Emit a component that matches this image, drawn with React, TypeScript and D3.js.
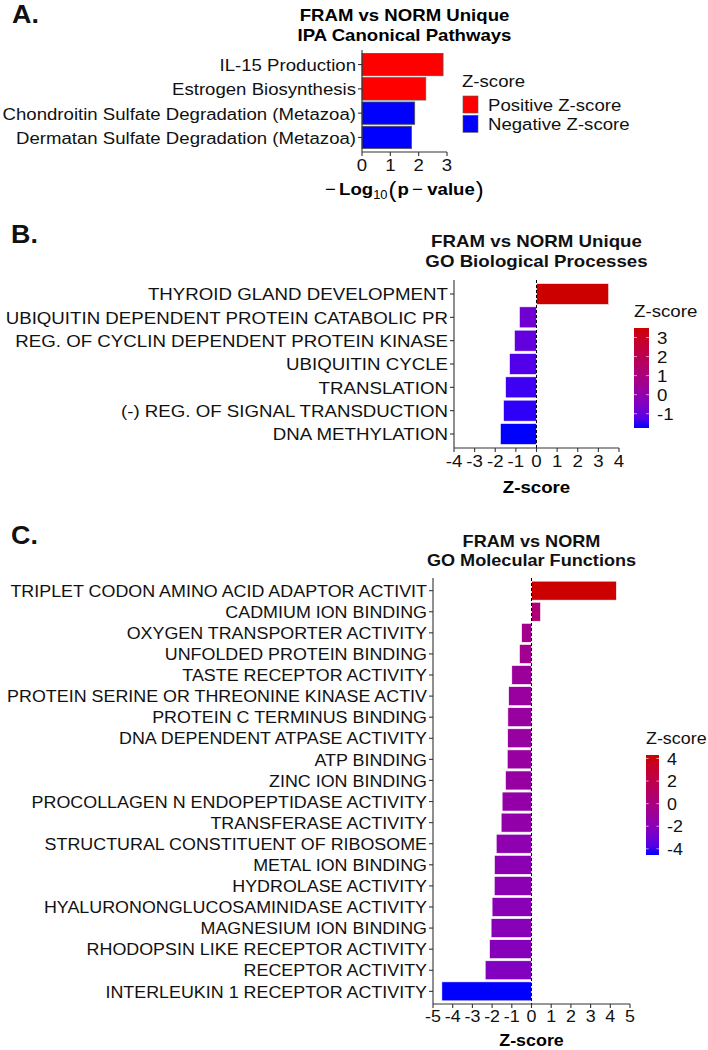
import React from "react";
import * as d3 from "d3";

// ---------- Data ----------
const catsA = [
  "IL-15 Production",
  "Estrogen Biosynthesis",
  "Chondroitin Sulfate Degradation (Metazoa)",
  "Dermatan Sulfate Degradation (Metazoa)",
];
const valsA = [2.86, 2.25, 1.86, 1.75];
const signA = ["pos", "pos", "neg", "neg"];
const ticksA = [0, 1, 2, 3];
const legendA = ["Positive Z-score", "Negative Z-score"];

const catsB = [
  "THYROID GLAND DEVELOPMENT",
  "UBIQUITIN DEPENDENT PROTEIN CATABOLIC PR",
  "REG. OF CYCLIN DEPENDENT PROTEIN KINASE",
  "UBIQUITIN CYCLE",
  "TRANSLATION",
  "(-) REG. OF SIGNAL TRANSDUCTION",
  "DNA METHYLATION",
];
const valsB = [3.5, -0.83, -1.07, -1.31, -1.5, -1.6, -1.75];
const ticksB = [-4, -3, -2, -1, 0, 1, 2, 3, 4];
const legendTicksB = [3, 2, 1, 0, -1];

const catsC = [
  "TRIPLET CODON AMINO ACID ADAPTOR ACTIVIT",
  "CADMIUM ION BINDING",
  "OXYGEN TRANSPORTER ACTIVITY",
  "UNFOLDED PROTEIN BINDING",
  "TASTE RECEPTOR ACTIVITY",
  "PROTEIN SERINE OR THREONINE KINASE ACTIV",
  "PROTEIN C TERMINUS BINDING",
  "DNA DEPENDENT ATPASE ACTIVITY",
  "ATP BINDING",
  "ZINC ION BINDING",
  "PROCOLLAGEN N ENDOPEPTIDASE ACTIVITY",
  "TRANSFERASE ACTIVITY",
  "STRUCTURAL CONSTITUENT OF RIBOSOME",
  "METAL ION BINDING",
  "HYDROLASE ACTIVITY",
  "HYALURONONGLUCOSAMINIDASE ACTIVITY",
  "MAGNESIUM ION BINDING",
  "RHODOPSIN LIKE RECEPTOR ACTIVITY",
  "RECEPTOR ACTIVITY",
  "INTERLEUKIN 1 RECEPTOR ACTIVITY",
];
const valsC = [
  4.31, 0.46, -0.5, -0.61, -1.0, -1.16, -1.2, -1.21, -1.23, -1.32, -1.49, -1.54,
  -1.79, -1.88, -1.89, -2.0, -2.05, -2.13, -2.35, -4.55,
];
const ticksC = [-5, -4, -3, -2, -1, 0, 1, 2, 3, 4, 5];
const legendTicksC = [4, 2, 0, -2, -4];

// ---------- Styling ----------
const FONT = "'Liberation Sans', Arial, Helvetica, sans-serif";
const AXIS = "#333333";
const LOW = "#0000FF";
const HIGH = "#CD0000";
const SX = 1.075; // horizontal stretch of the reference's lettering

function T({ x, y, size, anchor = "start", bold = false, fill = "#111", children }: any) {
  return (
    <text
      transform={`translate(${x},${y}) scale(${SX},1)`}
      x={0}
      y={0}
      fontSize={size}
      textAnchor={anchor}
      fontWeight={bold ? "bold" : "normal"}
      fill={fill}
    >
      {children}
    </text>
  );
}

function ZBars({
  cats, vals, xDomain, xRange, yRange, ticks, legendTicks, fontSize,
  title, titleY, tickY, axisTitleY, cbar, gradId,
}: any) {
  const x = d3.scaleLinear().domain(xDomain).range(xRange);
  const y = d3.scalePoint<string>().domain(cats).range(yRange).padding(0.6);
  const step = y.step();
  const [vmin, vmax] = d3.extent(vals as number[]) as [number, number];
  const color = d3.scaleLinear<string>().domain([vmin, vmax]).range([LOW, HIGH]).interpolate(d3.interpolateLab);
  const cScale = d3.scaleLinear().domain([vmin, vmax]).range([cbar.bottom, cbar.top]);
  const cx = (xRange[0] + xRange[1]) / 2;
  const stops = d3.range(0, 11).map((i) => i / 10);
  return (
    <g fontFamily={FONT}>
      <defs>
        <linearGradient id={gradId} x1="0" y1="1" x2="0" y2="0">
          {stops.map((t) => (
            <stop key={t} offset={t} stopColor={color(vmin + t * (vmax - vmin))} />
          ))}
        </linearGradient>
      </defs>
      <T x={cx} y={titleY[0]} anchor="middle" bold size={title.size}>{title.lines[0]}</T>
      <T x={cx} y={titleY[1]} anchor="middle" bold size={title.size}>{title.lines[1]}</T>
      {cats.map((c: string, i: number) => {
        const v = vals[i];
        const x0 = x(Math.min(0, v));
        const x1 = x(Math.max(0, v));
        const bh = step * 0.9;
        return (
          <rect key={c} x={x0} y={(y(c) as number) - bh / 2} width={x1 - x0} height={bh}
            fill={color(v)} stroke="#ffffff" strokeWidth={0.6} />
        );
      })}
      <line x1={x(0)} x2={x(0)} y1={yRange[0]} y2={yRange[1]} stroke="#000" strokeWidth={1} strokeDasharray="3,2" />
      {/* y axis */}
      <line x1={xRange[0]} x2={xRange[0]} y1={yRange[0]} y2={yRange[1]} stroke={AXIS} strokeWidth={1.1} />
      {cats.map((c: string) => (
        <g key={"t" + c}>
          <line x1={xRange[0] - 4} x2={xRange[0]} y1={y(c)} y2={y(c)} stroke={AXIS} strokeWidth={1.1} />
          <T x={xRange[0] - 6} y={(y(c) as number) + fontSize * 0.37} anchor="end" size={fontSize}>{c}</T>
        </g>
      ))}
      {/* x axis */}
      <line x1={xRange[0]} x2={xRange[1]} y1={yRange[1]} y2={yRange[1]} stroke={AXIS} strokeWidth={1.1} />
      {ticks.map((t: number) => (
        <g key={"x" + t}>
          <line x1={x(t)} x2={x(t)} y1={yRange[1]} y2={yRange[1] + 4} stroke={AXIS} strokeWidth={1.1} />
          <T x={x(t)} y={tickY} anchor="middle" size={fontSize}>{String(t)}</T>
        </g>
      ))}
      <T x={cx} y={axisTitleY} anchor="middle" bold size={fontSize} fill="#000">Z-score</T>
      {/* colorbar legend */}
      <T x={cbar.x} y={cbar.titleY} size={fontSize}>Z-score</T>
      <rect x={cbar.x} y={cbar.top} width={cbar.w} height={cbar.bottom - cbar.top} fill={`url(#${gradId})`} />
      {legendTicks.map((t: number) => (
        <g key={"l" + t}>
          <line x1={cbar.x} x2={cbar.x + cbar.w * 0.2} y1={cScale(t)} y2={cScale(t)} stroke="#fff" strokeWidth={0.6} />
          <line x1={cbar.x + cbar.w * 0.8} x2={cbar.x + cbar.w} y1={cScale(t)} y2={cScale(t)} stroke="#fff" strokeWidth={0.6} />
          <T x={cbar.x + cbar.w + 8} y={cScale(t) + fontSize * 0.37} size={fontSize}>{String(t)}</T>
        </g>
      ))}
    </g>
  );
}

function PanelA() {
  const xRange = [362, 447];
  const yRange = [50, 152];
  const fs = 17.3;
  const x = d3.scaleLinear().domain([0, 3]).range(xRange);
  const y = d3.scalePoint<string>().domain(catsA).range(yRange).padding(0.6);
  const step = y.step();
  const fillFor = (s: string) => (s === "pos" ? "#FF0000" : "#0000FF");
  const cx = (xRange[0] + xRange[1]) / 2;
  return (
    <g fontFamily={FONT}>
      <T x={cx} y={21} anchor="middle" bold size={17.3} fill="#000">FRAM vs NORM Unique</T>
      <T x={cx} y={40.5} anchor="middle" bold size={17.3} fill="#000">IPA Canonical Pathways</T>
      {catsA.map((c, i) => {
        const bh = step * 0.92;
        return (
          <rect key={c} x={x(0)} y={(y(c) as number) - bh / 2} width={x(valsA[i]) - x(0)} height={bh}
            fill={fillFor(signA[i])} stroke="#555" strokeWidth={0.8} />
        );
      })}
      <line x1={xRange[0]} x2={xRange[0]} y1={yRange[0]} y2={yRange[1]} stroke={AXIS} strokeWidth={1.1} />
      {catsA.map((c) => (
        <g key={"t" + c}>
          <line x1={xRange[0] - 4} x2={xRange[0]} y1={y(c)} y2={y(c)} stroke={AXIS} strokeWidth={1.1} />
          <T x={xRange[0] - 6} y={(y(c) as number) + fs * 0.37} anchor="end" size={fs}>{c}</T>
        </g>
      ))}
      <line x1={xRange[0]} x2={xRange[1]} y1={yRange[1]} y2={yRange[1]} stroke={AXIS} strokeWidth={1.1} />
      {ticksA.map((t) => (
        <g key={"x" + t}>
          <line x1={x(t)} x2={x(t)} y1={yRange[1]} y2={yRange[1] + 4} stroke={AXIS} strokeWidth={1.1} />
          <T x={x(t)} y={171} anchor="middle" size={fs}>{String(t)}</T>
        </g>
      ))}
      <T x={325} y={195} size={fs} fill="#000">
        <tspan>−</tspan>
        <tspan dx={3} fontWeight="bold">Log</tspan>
        <tspan fontSize={12} dy={4}>10</tspan>
        <tspan fontSize={22} dy={-2} dx={1}>(</tspan>
        <tspan fontWeight="bold" dy={-2} dx={1}>p</tspan>
        <tspan dx={3}>−</tspan>
        <tspan dx={4} fontWeight="bold">value</tspan>
        <tspan fontSize={22} dy={2} dx={1}>)</tspan>
      </T>
      {/* legend */}
      <T x={462} y={87} size={fs}>Z-score</T>
      {legendA.map((l, i) => (
        <g key={l}>
          <rect x={463} y={96 + i * 19.3} width={15} height={17} fill={i === 0 ? "#FF0000" : "#0000FF"} stroke="#555" strokeWidth={0.6} />
          <T x={488} y={96 + i * 19.3 + 8.5 + fs * 0.37} size={fs}>{l}</T>
        </g>
      ))}
    </g>
  );
}

export default function App() {
  return (
    <svg width={708} height={1050} style={{ position: "absolute", left: 0, top: 0, background: "#fff" }}>
      <rect width={708} height={1050} fill="#fff" />
      <g fontFamily={FONT}>
        <T x={12} y={23} bold size={25}>A.</T>
        <T x={11} y={243} bold size={25}>B.</T>
        <T x={11} y={544} bold size={25}>C.</T>
      </g>
      <PanelA />
      <ZBars
        cats={catsB} vals={valsB} xDomain={[-4, 4]} xRange={[454, 619]} yRange={[280, 448]}
        ticks={ticksB} legendTicks={legendTicksB} fontSize={17.4}
        title={{ lines: ["FRAM vs NORM Unique", "GO Biological Processes"], size: 17.4 }}
        titleY={[247, 267]} tickY={467} axisTitleY={493}
        cbar={{ x: 634, w: 15, top: 328, bottom: 428, titleY: 317 }} gradId="gradB"
      />
      <ZBars
        cats={catsC} vals={valsC} xDomain={[-5, 5]} xRange={[433, 630]} yRange={[578, 1004]}
        ticks={ticksC} legendTicks={legendTicksC} fontSize={16.65}
        title={{ lines: ["FRAM vs NORM", "GO Molecular Functions"], size: 16.85 }}
        titleY={[547, 566]} tickY={1022} axisTitleY={1046}
        cbar={{ x: 646, w: 13, top: 755, bottom: 855, titleY: 744 }} gradId="gradC"
      />
    </svg>
  );
}
